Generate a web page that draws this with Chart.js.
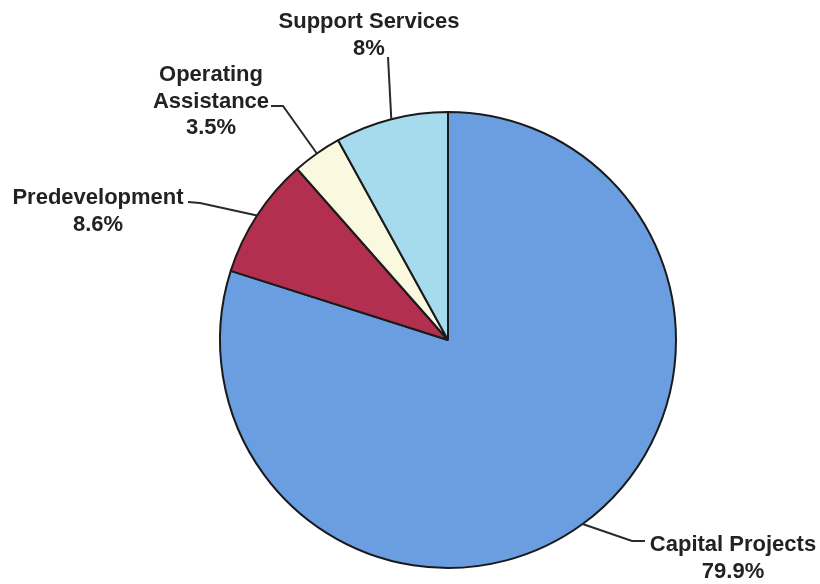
<!DOCTYPE html>
<html>
<head>
<meta charset="utf-8">
<script src="https://cdn.jsdelivr.net/npm/chart.js@4.4.1/dist/chart.umd.min.js"></script>
<style>
  html, body { margin: 0; padding: 0; background: #fff; }
  #wrap { width: 820px; height: 584px; }
</style>
</head>
<body>
<div id="wrap"><canvas id="chartCanvas" width="820" height="584"></canvas></div>
<script>
// data
const categories = ["Capital Projects", "Predevelopment", "Operating Assistance", "Support Services"];
const shares = [79.9, 8.6, 3.5, 8];
const shareLabels = ["79.9%", "8.6%", "3.5%", "8%"];
const sliceColors = ["#6a9ee0", "#b32f50", "#fbf8e0", "#a6dbee"];

// where each label sits and how its leader line bends (pixels)
const labelLayout = [
    { lines: ["Capital Projects", shareLabels[0]], x: 733, y: 545, path: [[632, 541], [645, 541]] },
    { lines: ["Predevelopment", shareLabels[1]], x: 98, y: 198, path: [[200, 203], [188, 202]] },
    { lines: ["Operating", "Assistance", shareLabels[2]], x: 211, y: 75, path: [[283, 106], [271, 106]] },
    { lines: ["Support Services", shareLabels[3]], x: 369, y: 22, path: [[388, 57]] },
];

const leaderLabels = {
    id: "leaderLabels",
    afterDraw(chart) {
        const ctx = chart.ctx;
        const arcs = chart.getDatasetMeta(0).data;
        ctx.save();
        arcs.forEach((arc, i) => {
            const lay = labelLayout[i];
            const mid = (arc.startAngle + arc.endAngle) / 2;
            const sx = arc.x + Math.cos(mid) * arc.outerRadius;
            const sy = arc.y + Math.sin(mid) * arc.outerRadius;
            ctx.beginPath();
            ctx.moveTo(sx, sy);
            lay.path.forEach(p => ctx.lineTo(p[0], p[1]));
            ctx.strokeStyle = "#2a2a2a";
            ctx.lineWidth = 2;
            ctx.stroke();

            ctx.fillStyle = "#222";
            ctx.font = "bold 22px 'Liberation Sans', Arial, sans-serif";
            ctx.textAlign = "center";
            ctx.textBaseline = "middle";
            lay.lines.forEach((t, k) => ctx.fillText(t, lay.x, lay.y + k * 26.5));
        });
        ctx.restore();
    }
};

new Chart(document.getElementById("chartCanvas").getContext("2d"), {
    type: "pie",
    data: {
        labels: categories,
        datasets: [{
            data: shares,
            backgroundColor: sliceColors,
            borderColor: "#1a1a1a",
            borderWidth: 2,
            borderAlign: "center",
        }],
    },
    options: {
        responsive: false,
        animation: false,
        layout: { padding: { left: 219, right: 143, top: 111, bottom: 15 } },
        plugins: {
            legend: { display: false },
            tooltip: { enabled: false },
        },
    },
    plugins: [leaderLabels],
});
</script>
</body>
</html>
